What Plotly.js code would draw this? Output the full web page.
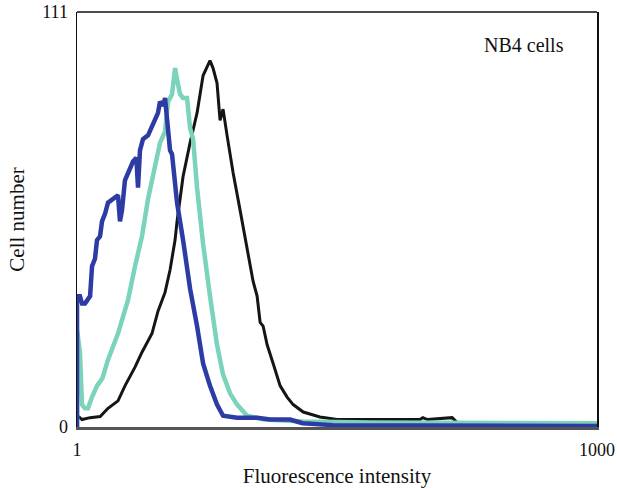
<!DOCTYPE html>
<html>
<head>
<meta charset="utf-8">
<script src="https://cdn.plot.ly/plotly-3.0.1.min.js"></script>
<style>html,body{margin:0;padding:0;background:#fff;}#chart{width:617px;height:488px;}</style>
</head>
<body>
<div id="chart"></div>
<script>
// Blue histogram
var blueX = [1, 1, 1.04, 1.069, 1.112, 1.157, 1.19, 1.221, 1.27, 1.304, 1.358, 1.394, 1.451, 1.51, 1.613, 1.724, 1.77, 1.818, 1.891, 1.97, 2.104, 2.2, 2.249, 2.309, 2.403, 2.569, 2.745, 2.933, 3.012, 3.15, 3.22, 3.351, 3.441, 3.534, 3.679, 3.777, 4.092, 4.49, 4.928, 5.338, 5.852, 6.424, 6.961, 8.387, 10.94, 13.01, 16.97, 20, 30, 1000];
var blueY = [0, 35, 35, 33, 33, 34, 35, 43, 45, 50, 51, 55, 57, 60, 61, 62, 55, 58, 66, 68, 71, 72, 64, 74, 77, 78, 81, 84, 87, 86, 88, 80, 74, 73, 64, 60, 50, 37, 27, 17, 11, 6, 3, 2.5, 2.5, 2, 2, 1, 0.5, 0.3];
// Teal histogram
var tealX = [1, 1, 1.04, 1.069, 1.112, 1.157, 1.221, 1.304, 1.4, 1.51, 1.724, 1.97, 2.161, 2.371, 2.569, 2.818, 3.012, 3.22, 3.351, 3.534, 3.679, 3.777, 3.931, 4.092, 4.314, 4.49, 4.674, 4.928, 5.338, 5.852, 6.424, 6.961, 7.641, 8.387, 9.574, 12, 20, 50, 1000];
var tealY = [0, 26, 20, 6, 5, 5, 8, 11, 13, 18, 25, 34, 43, 51, 61, 70, 76, 79, 87, 89, 96, 93, 89, 88, 88, 80, 77, 64, 49, 35, 22, 14, 9, 6, 3, 2, 1.5, 1.2, 1];
// Black histogram
var blackX = [1, 1, 1.04, 1.069, 1.19, 1.36, 1.51, 1.724, 1.891, 2.161, 2.371, 2.708, 2.933, 3.22, 3.441, 3.679, 3.777, 4.092, 4.49, 4.928, 5.338, 5.852, 6.092, 6.424, 6.688, 6.961, 7.341, 7.954, 8.727, 9.574, 10.37, 10.94, 11.39, 11.85, 12.5, 13.54, 14.86, 16.3, 17.66, 20.2, 25.2, 31.6, 56, 95, 99, 105, 146, 155, 1000];
var blackY = [0, 3, 2.5, 2, 2.5, 2.8, 5, 7, 11, 16, 20, 25, 31, 36, 42, 50, 55, 67, 76, 84, 94, 98, 96, 92, 82, 85, 78, 68, 58, 48, 39, 35, 28, 27, 22, 17, 11, 8, 6, 4, 2.7, 2, 2, 2, 2.5, 2, 2.5, 1.3, 1];

var xTickVals = [1, 1000];
var xTickText = ['1', '1000'];
var yTickVals = [0, 111];
var yTickText = ['0', '111'];

var serif = 'Liberation Serif, DejaVu Serif, serif';

var traces = [
  {x: blackX, y: blackY, type: 'scatter', mode: 'lines', line: {color: '#151515', width: 3}, hoverinfo: 'skip'},
  {x: tealX, y: tealY, type: 'scatter', mode: 'lines', line: {color: '#7ad3ba', width: 4.5}, hoverinfo: 'skip'},
  {x: blueX, y: blueY, type: 'scatter', mode: 'lines', line: {color: '#2d3ba4', width: 4.5}, hoverinfo: 'skip'}
];

var layout = {
  width: 617, height: 488,
  margin: {l: 77, r: 20, t: 12, b: 61},
  paper_bgcolor: '#fff', plot_bgcolor: '#fff',
  showlegend: false,
  font: {family: serif, size: 18, color: '#111'},
  xaxis: {
    type: 'log', range: [0, 3],
    tickvals: xTickVals, ticktext: xTickText,
    showgrid: false, zeroline: false, ticks: '',
    showline: true, linecolor: '#555', linewidth: 3,
    ticklabelstandoff: 4,
    tickfont: {family: serif, size: 18, color: '#111'},
    title: {text: 'Fluorescence intensity', font: {family: serif, size: 21, color: '#111'}, standoff: 10}
  },
  yaxis: {
    range: [0, 111],
    tickvals: yTickVals, ticktext: yTickText,
    showgrid: false, zeroline: false, ticks: '',
    showline: true, mirror: true, linecolor: '#111', linewidth: 1.5,
    ticklabelstandoff: 4,
    tickfont: {family: serif, size: 18, color: '#111'},
    title: {text: 'Cell number', font: {family: serif, size: 21, color: '#111'}, standoff: 12}
  },
  shapes: [
    {type: 'line', xref: 'paper', yref: 'paper', x0: 0, x1: 1, y0: 1, y1: 1, line: {color: '#111', width: 1.5}}
  ],
  annotations: [
    {text: 'NB4 cells', xref: 'paper', yref: 'paper', x: 0.94, y: 0.92, showarrow: false, xanchor: 'right', yanchor: 'middle', font: {family: serif, size: 20, color: '#111'}}
  ]
};

Plotly.newPlot('chart', traces, layout, {staticPlot: true, displayModeBar: false});
</script>
</body>
</html>
